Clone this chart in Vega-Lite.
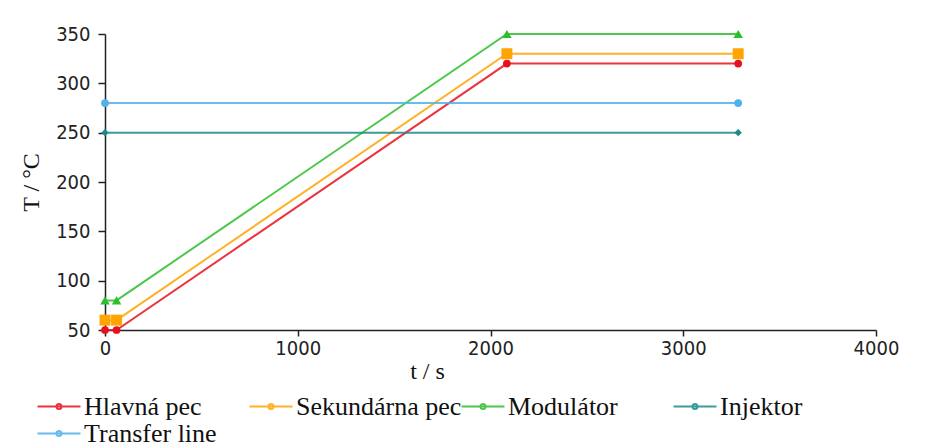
{
  "$schema": "https://vega.github.io/schema/vega-lite/v6.json",
  "width": 771,
  "height": 296,
  "autosize": "none",
  "padding": {"left": 105, "top": 34, "right": 62, "bottom": 113},
  "background": "white",
  "config": {"view": {"stroke": null}},
  "data": {"values": [
    {"series": "Hlavná pec", "t": 0, "T": 50},
    {"series": "Hlavná pec", "t": 60, "T": 50},
    {"series": "Hlavná pec", "t": 2085, "T": 320},
    {"series": "Hlavná pec", "t": 3285, "T": 320},
    {"series": "Sekundárna pec", "t": 0, "T": 60},
    {"series": "Sekundárna pec", "t": 60, "T": 60},
    {"series": "Sekundárna pec", "t": 2085, "T": 330},
    {"series": "Sekundárna pec", "t": 3285, "T": 330},
    {"series": "Modulátor", "t": 0, "T": 80},
    {"series": "Modulátor", "t": 60, "T": 80},
    {"series": "Modulátor", "t": 2085, "T": 350},
    {"series": "Modulátor", "t": 3285, "T": 350},
    {"series": "Injektor", "t": 0, "T": 250},
    {"series": "Injektor", "t": 3285, "T": 250},
    {"series": "Transfer line", "t": 0, "T": 280},
    {"series": "Transfer line", "t": 3285, "T": 280}
  ]},
  "encoding": {
    "x": {"field": "t", "type": "quantitative",
      "scale": {"domain": [0, 4000], "nice": false, "zero": false},
      "axis": {"values": [0, 1000, 2000, 3000, 4000], "format": "d", "grid": false,
        "title": "t / s", "titleFont": "Liberation Serif", "titleFontSize": 24, "titleFontWeight": "normal", "titleColor": "#111",
        "titleX": 322, "titleY": 48, "titleAlign": "center", "titleBaseline": "alphabetic", "titleAnchor": null,
        "labelFont": "Liberation Sans Narrow, DejaVu Sans Condensed, Liberation Sans", "labelFontSize": 20, "labelColor": "#222", "labelFlush": false, "labelPadding": 2,
        "tickSize": 6, "tickColor": "#222", "tickWidth": 1.5, "domainColor": "#222", "domainWidth": 1.5,
        "encode": {"ticks": {"y": {"value": -6}}}}},
    "y": {"field": "T", "type": "quantitative",
      "scale": {"domain": [50, 350], "nice": false, "zero": false},
      "axis": {"values": [50, 100, 150, 200, 250, 300, 350], "format": "d", "grid": false,
        "title": "T / °C", "titleFont": "Liberation Serif", "titleFontSize": 24, "titleFontWeight": "normal", "titleColor": "#111",
        "titlePadding": 12,
        "labelFont": "Liberation Sans Narrow, DejaVu Sans Condensed, Liberation Sans", "labelFontSize": 20, "labelColor": "#222", "labelPadding": 8,
        "tickSize": 7, "tickColor": "#222", "tickWidth": 1.5, "domainColor": "#222", "domainWidth": 1.5,
        "encode": {"ticks": {"x": {"value": 7}}}}}
  },
  "layer": [
    {
      "mark": {"type": "line", "strokeWidth": 2, "opacity": 0.85},
      "encoding": {
        "color": {"field": "series", "type": "nominal",
          "scale": {"domain": ["Hlavná pec", "Sekundárna pec", "Modulátor", "Injektor", "Transfer line"],
            "range": ["#E8101E", "#FFA500", "#2DBE2D", "#1B8A8A", "#4DB1EA"]},
          "legend": {"orient": "none", "legendX": -59, "legendY": 359.5, "columns": 4, "direction": "horizontal",
            "gridAlign": "all", "title": null, "padding": 0, "symbolSize": 400, "symbolStrokeWidth": 2,
            "symbolType": "M-2.15,0H2.15M-0.25,0A0.25,0.25 0 1,0 0.25,0A0.25,0.25 0 1,0 -0.25,0Z",
            "labelFont": "Liberation Serif", "labelFontSize": 26, "labelColor": "#111", "labelOffset": 12,
            "columnPadding": -5, "rowPadding": 1, "labelLimit": 400}}
      }
    },
    {
      "transform": [{"filter": "datum.series === 'Hlavná pec'"}],
      "mark": {"type": "point", "filled": true, "opacity": 1, "strokeWidth": 0, "shape": "circle", "size": 60, "color": "#E8101E"}
    },
    {
      "transform": [{"filter": "datum.series === 'Sekundárna pec'"}],
      "mark": {"type": "point", "filled": true, "opacity": 1, "strokeWidth": 0, "shape": "square", "size": 120, "color": "#FFA500"}
    },
    {
      "transform": [{"filter": "datum.series === 'Modulátor'"}],
      "mark": {"type": "point", "filled": true, "opacity": 1, "strokeWidth": 0, "shape": "triangle-up", "size": 90, "color": "#2DBE2D"}
    },
    {
      "transform": [{"filter": "datum.series === 'Injektor'"}],
      "mark": {"type": "point", "filled": true, "opacity": 1, "strokeWidth": 0, "shape": "diamond", "size": 55, "color": "#1B8A8A"}
    },
    {
      "transform": [{"filter": "datum.series === 'Transfer line'"}],
      "mark": {"type": "point", "filled": true, "opacity": 1, "strokeWidth": 0, "shape": "circle", "size": 60, "color": "#4DB1EA"}
    }
  ]
}
